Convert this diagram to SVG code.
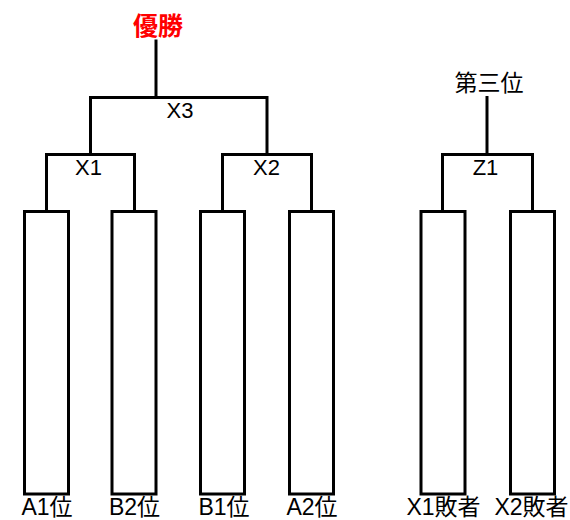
<svg xmlns="http://www.w3.org/2000/svg" width="570" height="520" viewBox="0 0 570 520">
<style>
.ln{fill:none;stroke:#000;stroke-width:3;stroke-linejoin:miter;stroke-linecap:square}
.box{fill:#fff;stroke:#000;stroke-width:3}
.t{font-family:"Liberation Sans","Noto Sans CJK JP",sans-serif;fill:#000;text-anchor:middle}
.lab{font-size:22px}
.big{font-size:23px}
.win{font-size:25px;font-weight:bold;fill:#f00}
</style>
<rect width="570" height="520" fill="#fff"/>
<g id="connectors">
<polyline class="ln" points="156,41 156,97.5"/>
<polyline class="ln" points="90.5,154.5 90.5,97.5 267,97.5 267,154.5"/>
<polyline class="ln" points="46.5,211.5 46.5,154.5 134.5,154.5 134.5,211.5"/>
<polyline class="ln" points="222.5,211.5 222.5,154.5 311.5,154.5 311.5,211.5"/>
<polyline class="ln" points="487,97.5 487,154.5"/>
<polyline class="ln" points="442.5,211.5 442.5,154.5 532.5,154.5 532.5,211.5"/>
</g>
<g id="champion"><text class="t win" x="158" y="34.5">優勝</text></g>
<g id="third"><text class="t big" x="489" y="91">第三位</text></g>
<g id="X3"><text class="t lab" x="180" y="118">X3</text></g>
<g id="X1"><text class="t lab" x="88.5" y="174.5">X1</text></g>
<g id="X2"><text class="t lab" x="266.5" y="175">X2</text></g>
<g id="Z1"><text class="t lab" x="485.5" y="174.5">Z1</text></g>
<g id="A1"><rect class="box" x="24.5" y="211.5" width="44" height="282.5"/><text class="t big" x="47" y="515">A1位</text></g>
<g id="B2"><rect class="box" x="112" y="211.5" width="44" height="282.5"/><text class="t big" x="134.5" y="515">B2位</text></g>
<g id="B1"><rect class="box" x="200.5" y="211.5" width="44" height="282.5"/><text class="t big" x="224" y="515">B1位</text></g>
<g id="A2"><rect class="box" x="289.5" y="211.5" width="44" height="282.5"/><text class="t big" x="312" y="515">A2位</text></g>
<g id="X1L"><rect class="box" x="421" y="211.5" width="44" height="282.5"/><text class="t big" x="443.5" y="515">X1敗者</text></g>
<g id="X2L"><rect class="box" x="510.5" y="211.5" width="44" height="282.5"/><text class="t big" x="531.5" y="515">X2敗者</text></g>
</svg>
